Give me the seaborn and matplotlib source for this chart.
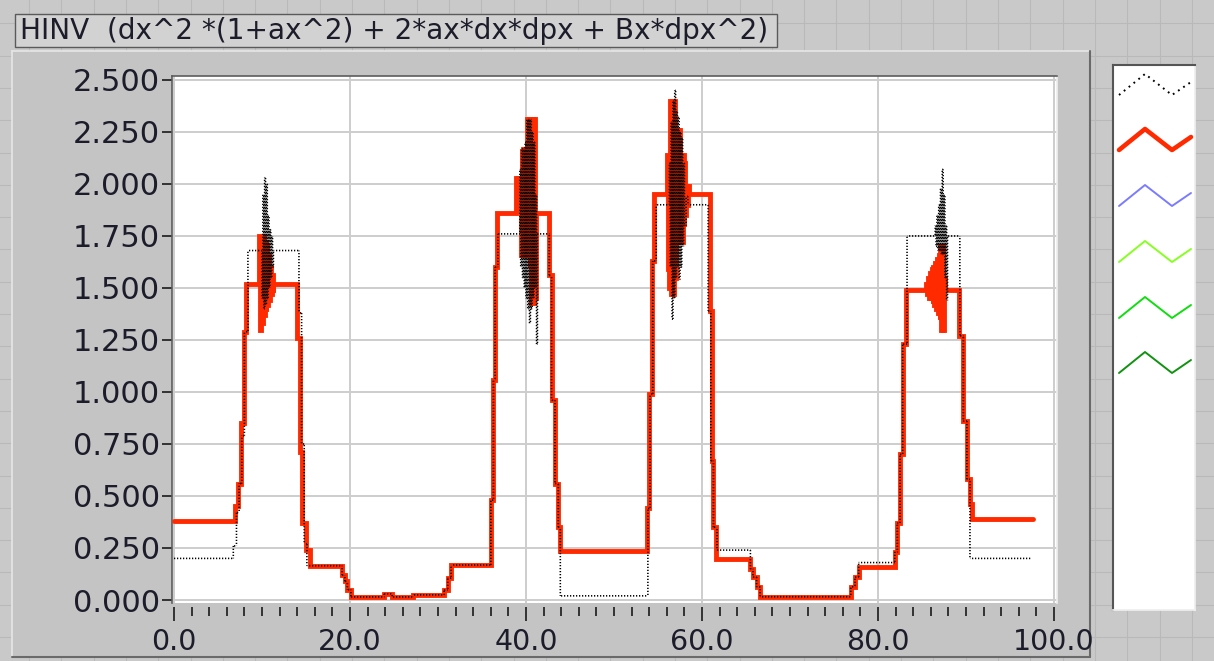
import numpy as np
import pandas as pd
import matplotlib
matplotlib.use("Agg")
import matplotlib.pyplot as plt
import seaborn as sns
from matplotlib.patches import Rectangle
from matplotlib.lines import Line2D
from matplotlib.collections import LineCollection

# ---------------------------------------------------------------------------
# Data: each series is a step trace, value y[i] holds from x[i] to x[i+1]
# ---------------------------------------------------------------------------
red_x = [0.0, 6.9, 7.3, 7.6, 7.9, 8.2,
         9.7, 9.8, 9.9, 10.0, 10.1, 10.2, 10.3, 10.4, 10.5, 10.6, 10.7, 10.8,
         10.9, 11.0, 11.1, 11.2, 11.3,
         14.0, 14.3, 14.6, 15.0, 15.4,
         19.1, 19.4, 19.7, 20.1, 23.9, 24.8, 27.2, 30.7, 31.1, 31.5,
         36.0, 36.3, 36.5, 36.7,
         38.9, 39.0, 39.1, 39.2, 39.3, 39.4, 39.5, 39.6, 39.7, 39.8, 39.9,
         40.0, 40.1, 40.2, 40.3, 40.4, 40.5, 40.6, 40.7, 40.8, 40.9, 41.0, 41.1,
         42.65, 42.9, 43.3, 43.67, 43.9,
         53.7, 54.0, 54.3, 54.55,
         56.0, 56.1, 56.2, 56.3, 56.4, 56.5, 56.6, 56.7, 56.8, 56.9, 57.0,
         57.1, 57.2, 57.3, 57.4, 57.5, 57.6, 57.7, 57.8, 57.9, 58.0, 58.1,
         58.2, 58.3, 58.4, 58.5,
         60.9, 61.1, 61.3, 61.6,
         65.5, 65.8, 66.2, 66.6,
         76.9, 77.4, 77.8,
         81.9, 82.2, 82.5, 82.8, 83.2,
         85.5, 85.6, 85.7, 85.8, 85.9, 86.0, 86.1, 86.2, 86.3, 86.4, 86.5,
         86.6, 86.7, 86.8, 86.9, 87.0, 87.1, 87.2, 87.3, 87.4, 87.5, 87.6,
         89.2, 89.7, 90.1, 90.4, 90.65, 97.6]
red_y = [0.38, 0.45, 0.56, 0.85, 1.29, 1.52,
         1.75, 1.30, 1.74, 1.33, 1.75, 1.37, 1.72, 1.39, 1.70, 1.42, 1.66, 1.44,
         1.60, 1.47, 1.56, 1.48, 1.52,
         1.26, 0.71, 0.37, 0.24, 0.165,
         0.12, 0.09, 0.05, 0.015, 0.03, 0.015, 0.025, 0.048, 0.105, 0.168,
         0.48, 1.06, 1.60, 1.86,
         2.03, 1.87, 2.03, 1.87, 2.03, 1.66, 2.17, 1.66, 2.17, 1.66, 2.17,
         1.66, 2.31, 1.66, 2.31, 1.60, 2.31, 1.43, 2.31, 1.43, 2.31, 1.45, 1.86,
         1.56, 0.96, 0.56, 0.35, 0.235,
         0.44, 0.99, 1.63, 1.95,
         2.14, 1.59, 2.14, 1.50, 2.40, 1.47, 2.40, 1.47, 2.40, 1.55, 2.26,
         1.72, 2.26, 1.72, 2.26, 1.72, 2.14, 1.72, 2.14, 1.80, 2.10, 1.85,
         1.99, 1.90, 1.99, 1.95,
         1.39, 0.67, 0.35, 0.195,
         0.15, 0.11, 0.064, 0.016,
         0.064, 0.11, 0.16,
         0.23, 0.37, 0.70, 1.23, 1.49,
         1.52, 1.47, 1.55, 1.45, 1.57, 1.45, 1.59, 1.43, 1.60, 1.42, 1.62,
         1.40, 1.64, 1.38, 1.66, 1.35, 1.70, 1.30, 1.70, 1.30, 1.55, 1.49,
         1.27, 0.86, 0.58, 0.46, 0.39, 0.39]

black_x = [0.0, 6.74, 7.1, 7.4, 7.7, 8.0, 8.4,
           10.0, 10.1, 10.2, 10.3, 10.4, 10.5, 10.6, 10.7, 10.8, 10.9, 11.0,
           11.1, 11.2, 11.3,
           14.2, 14.5, 14.8, 15.1,
           19.1, 19.4, 19.7, 20.1, 23.9, 24.8, 27.2, 30.7, 31.1, 31.5,
           36.0, 36.3, 36.5, 36.8,
           39.2, 39.3, 39.4, 39.5, 39.6, 39.7, 39.8, 39.9, 40.0, 40.1, 40.2,
           40.3, 40.4, 40.5, 40.6, 40.7, 40.8, 40.9, 41.0, 41.1, 41.2, 41.3,
           42.65, 42.9, 43.3, 43.67, 43.9,
           53.85, 54.1, 54.4, 54.8,
           56.2, 56.3, 56.4, 56.5, 56.6, 56.7, 56.8, 56.9, 57.0, 57.1, 57.2,
           57.3, 57.4, 57.5, 57.6, 57.7, 57.8, 57.9, 58.0, 58.2, 58.4,
           60.7, 61.0, 61.3, 61.7,
           65.5, 65.8, 66.2, 66.6,
           76.9, 77.4, 77.8,
           81.9, 82.2, 82.5, 82.8, 83.3,
           86.4, 86.5, 86.6, 86.7, 86.8, 86.9, 87.0, 87.1, 87.2, 87.3, 87.4,
           87.5, 87.6, 87.7, 87.8, 87.9, 88.1,
           89.3, 89.7, 90.1, 90.45, 97.4]
black_y = [0.20, 0.26, 0.42, 0.56, 0.79, 1.29, 1.68,
           1.45, 1.95, 1.40, 2.03, 1.42, 2.00, 1.45, 1.85, 1.50, 1.78, 1.55,
           1.75, 1.60, 1.68,
           1.38, 0.75, 0.27, 0.165,
           0.12, 0.09, 0.05, 0.015, 0.03, 0.015, 0.025, 0.048, 0.105, 0.168,
           0.48, 1.06, 1.60, 1.76,
           1.76, 2.07, 1.60, 2.17, 1.55, 2.17, 1.50, 2.20, 1.45, 2.31, 1.40,
           2.31, 1.33, 2.31, 1.40, 2.25, 1.45, 2.20, 1.50, 1.95, 1.23, 1.76,
           1.56, 0.96, 0.56, 0.35, 0.02,
           0.44, 0.99, 1.63, 1.90,
           1.90, 2.10, 1.60, 2.30, 1.35, 2.40, 1.45, 2.45, 1.55, 2.35, 1.60,
           2.32, 1.54, 2.25, 1.60, 2.22, 1.70, 2.10, 1.80, 1.94, 1.90,
           1.39, 0.67, 0.35, 0.24,
           0.15, 0.11, 0.064, 0.016,
           0.064, 0.11, 0.18,
           0.23, 0.37, 0.70, 1.23, 1.75,
           1.75, 1.80, 1.70, 1.85, 1.68, 1.90, 1.68, 1.98, 1.66, 2.07, 1.66,
           1.95, 1.55, 1.80, 1.44, 1.75, 1.75,
           1.27, 0.86, 0.58, 0.20, 0.20]

y_ticks = [0.0, 0.25, 0.5, 0.75, 1.0, 1.25, 1.5, 1.75, 2.0, 2.25, 2.5]
y_tick_labels = ["0.000", "0.250", "0.500", "0.750", "1.000", "1.250",
                 "1.500", "1.750", "2.000", "2.250", "2.500"]
x_ticks = [0, 20, 40, 60, 80, 100]
x_tick_labels = ["0.0", "20.0", "40.0", "60.0", "80.0", "100.0"]
x_minor_step = 2

title_text = "HINV  (dx^2 *(1+ax^2) + 2*ax*dx*dpx + Bx*dpx^2)"
plot_colors = ["#000000", "#ff2a00", "#7b7bff", "#88ff22", "#11dd11", "#119211"]

# ---------------------------------------------------------------------------
# Figure and panel chrome (pixel geometry, y measured from the top)
# ---------------------------------------------------------------------------
W, H = 1214, 661
sns.set_theme(style="white")
plt.rcParams["font.family"] = ["DejaVu Sans"]
plt.rcParams["lines.scale_dashes"] = False

PANEL = "#c9c9c9"
PANEL_GRID = "#b9b9b9"
FRAME = "#c4c4c4"
TEXT = "#1c1c2a"

fig = plt.figure(figsize=(W / 100, H / 100), dpi=100)
fig.patch.set_facecolor(PANEL)


def fx(x):
    return x / W


def fy(y):
    return 1 - y / H


def box(x0, y0, x1, y1, **kw):
    r = Rectangle((fx(x0), fy(y1)), (x1 - x0) / W, (y1 - y0) / H,
                  transform=fig.transFigure, **kw)
    fig.add_artist(r)
    return r


def hline(x0, x1, y, **kw):
    fig.add_artist(Line2D([fx(x0), fx(x1)], [fy(y), fy(y)],
                          transform=fig.transFigure, **kw))


def vline(x, y0, y1, **kw):
    fig.add_artist(Line2D([fx(x), fx(x)], [fy(y0), fy(y1)],
                          transform=fig.transFigure, **kw))


# front-panel alignment grid
for gx in np.arange(29.0, W, 32.3):
    vline(gx, 0, H, color=PANEL_GRID, lw=0.8, zorder=0)
for gy in np.arange(23.4, H, 32.3):
    hline(0, W, gy, color=PANEL_GRID, lw=0.8, zorder=0)

# graph frame
box(12, 51, 1090, 657, facecolor=FRAME, edgecolor="none", zorder=1)
hline(12, 1090, 51, color="#e6e6e6", lw=1.2, zorder=2)
vline(12, 51, 657, color="#e6e6e6", lw=1.2, zorder=2)
vline(1090, 51, 657, color="#6a6a6a", lw=1.5, zorder=2)
hline(12, 1090, 657, color="#6a6a6a", lw=1.5, zorder=2)

# caption label
box(15, 14, 777, 47, facecolor="#d2d2d2", edgecolor="#5a5a5a", lw=1.0, zorder=2)
fig.text(fx(20), fy(31), title_text, ha="left", va="center",
         fontsize=20.1, color=TEXT, zorder=3)

# ---------------------------------------------------------------------------
# Plot area
# ---------------------------------------------------------------------------
ax = fig.add_axes([fx(172), fy(603), (1057 - 172) / W, (603 - 76) / H])
ax.set_zorder(5)
ax.set_facecolor("white")
ax.set_xlim(-0.227, 100.34)
ax.set_ylim(-0.0144, 2.519)

df_red = pd.DataFrame({"x": red_x, "y": red_y})
sns.lineplot(data=df_red, x="x", y="y", ax=ax, estimator=None, sort=False,
             drawstyle="steps-post", color=plot_colors[1], linewidth=3.5,
             solid_joinstyle="miter", zorder=3)

# Black trace: dotted steps whose dots sit on a common pixel lattice, so the
# densely sampled stretches render as stacked horizontal dashes.
DOT_PERIOD_PX = 3.0
DOT_ON_PX = 1.25
px2pt = 72.0 / fig.dpi
segs, styles = [], []
for i in range(len(black_x) - 1):
    x0, x1 = black_x[i], black_x[i + 1]
    y0, y1 = black_y[i], black_y[i + 1]
    for a, b in (((x0, y0), (x1, y0)), ((x1, y0), (x1, y1))):
        if a == b:
            continue
        pa, pb = ax.transData.transform([a, b])
        if abs(pb[0] - pa[0]) >= abs(pb[1] - pa[1]):
            start, sign = pa[0], np.sign(pb[0] - pa[0])
        else:
            start, sign = pa[1], np.sign(pb[1] - pa[1])
        off = (sign * start) % DOT_PERIOD_PX
        segs.append([a, b])
        styles.append((off * px2pt,
                       (DOT_ON_PX * px2pt, (DOT_PERIOD_PX - DOT_ON_PX) * px2pt)))
black_lines = LineCollection(segs, colors=plot_colors[0], linewidths=1.15,
                             linestyles=styles, capstyle="butt", zorder=4)
black_lines.set_snap(False)
ax.add_collection(black_lines)

ax.set_xlabel("")
ax.set_ylabel("")
ax.set_xticks(x_ticks)
ax.set_xticklabels(x_tick_labels)
ax.set_xticks(np.arange(0, 101, x_minor_step), minor=True)
ax.set_yticks(y_ticks)
ax.set_yticklabels(y_tick_labels)

ax.grid(True, which="major", color="#cdcdcd", linewidth=1.4)
ax.set_axisbelow(True)

for side in ("left", "top"):
    ax.spines[side].set_color("#5c5c5c")
    ax.spines[side].set_linewidth(1.2)
ax.spines["right"].set_color("#eeeeee")
ax.spines["bottom"].set_color("none")
ax.spines["bottom"].set_position(("outward", 3))

ax.tick_params(which="both", left=True, bottom=True, top=False, right=False)
ax.tick_params(axis="y", which="major", direction="out", length=7.5,
               width=1.4, color="#333333", pad=1.0, labelsize=22,
               labelcolor=TEXT)
ax.tick_params(axis="x", which="major", direction="out", length=10,
               width=1.4, color="#333333", pad=5, labelsize=20.5,
               labelcolor=TEXT)
ax.tick_params(axis="x", which="minor", direction="out", length=6.5,
               width=1.4, color="#333333")

# ---------------------------------------------------------------------------
# Plot legend strip: one zigzag glyph per plot
# ---------------------------------------------------------------------------
lax = fig.add_axes([fx(1113), fy(610), (1195 - 1113) / W, (610 - 65) / H])
lax.set_zorder(5)
lax.set_xlim(1113, 1195)
lax.set_ylim(610, 65)
lax.set_facecolor("white")
lax.set_xticks([])
lax.set_yticks([])
for side in ("left", "top"):
    lax.spines[side].set_color("#555555")
    lax.spines[side].set_linewidth(1.5)
for side in ("right", "bottom"):
    lax.spines[side].set_color("#eeeeee")

glyph_x = [1119, 1145, 1172, 1191]
glyph_dy = [0, -21, 0, -13]
glyph_base = [95, 150, 206, 262, 318, 373]
for i, (c, base) in enumerate(zip(plot_colors, glyph_base)):
    gy = [base + d for d in glyph_dy]
    if i == 0:
        lax.plot(glyph_x, gy, color=c, lw=1.4, linestyle=(0, (1.3, 3.2)))
    elif i == 1:
        lax.plot(glyph_x, gy, color=c, lw=3.3)
    else:
        lax.plot(glyph_x, gy, color=c, lw=1.4)

fig.savefig("out.png", dpi=100, facecolor=fig.get_facecolor())
